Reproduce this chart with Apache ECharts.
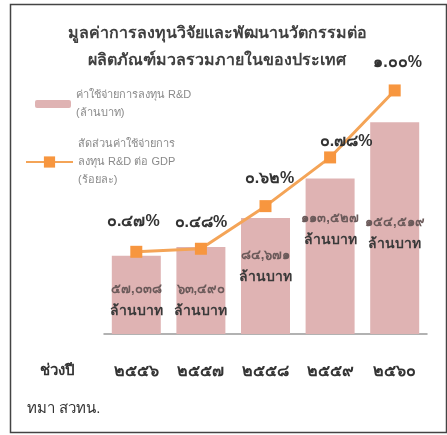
<!DOCTYPE html>
<html><head><meta charset="utf-8">
<script src="https://cdn.jsdelivr.net/npm/echarts@6/dist/echarts.min.js"></script>
<style>html,body{margin:0;padding:0;background:#fff}#c{width:447px;height:435px}</style>
</head><body><div id="c"></div>
<script>
const years = [2556, 2557, 2558, 2559, 2560];
const rdSpend = [57038, 63490, 84671, 113527, 154519];
const rdShare = [0.47, 0.48, 0.62, 0.78, 1.00];
const titleLines = ['มูลค่าการลงทุนวิจัยและพัฒนานวัตกรรมต่อ', 'ผลิตภัณฑ์มวลรวมภายในของประเทศ'];
const barName = 'ค่าใช้จ่ายการลงทุน R&D\n(ล้านบาท)';
const lineName = 'สัดส่วนค่าใช้จ่ายการ\nลงทุน R&D ต่อ GDP\n(ร้อยละ)';

const TH = '๐๑๒๓๔๕๖๗๘๙';
const thai = s => String(s).replace(/[0-9]/g, d => TH[+d]);
const fmtNum = n => thai(n.toLocaleString('en-US'));

const barLabelOffset = [[0,5],[0,10],[0,-10],[0,-27],[0,5]];
const lineLabelOffset = [[-3,-2],[0,2],[4,0],[16,12],[3,0]];

const FONT = 'sans-serif';
const chart = echarts.init(document.getElementById('c'));
chart.setOption({
  animation: false,
  textStyle: {fontFamily: FONT},
  title: {
    text: titleLines.join('\n'),
    left: 212, top: 15, textAlign: 'center',
    textStyle: {fontSize: 16, fontWeight: 'bold', color: '#404040', lineHeight: 27}
  },
  legend: [
    {data: [{name: barName}], left: 35, top: 81, padding: 0, orient: 'vertical',
     itemWidth: 36, itemHeight: 8,
     textStyle: {color: '#8a8a8a', fontSize: 11, lineHeight: 18, padding: [10,0,0,0]}},
    {data: [{name: lineName}], left: 25, top: 119, padding: 0, orient: 'vertical',
     itemWidth: 47, itemHeight: 14,
     textStyle: {color: '#8a8a8a', fontSize: 11, lineHeight: 18, padding: [32,0,0,0]}}
  ],
  grid: {left: 104, right: 20, top: 60, bottom: 101, containLabel: false},
  xAxis: {
    type: 'category', data: years.map(thai),
    axisLine: {lineStyle: {color: '#999', width: 1.5}},
    axisTick: {show: false},
    axisLabel: {margin: 30, fontSize: 16, fontWeight: 'bold', color: '#333'}
  },
  yAxis: [
    {type: 'value', min: 0, max: 200000, show: false},
    {type: 'value', min: 0.2, max: 1.1, show: false}
  ],
  graphic: [
    {type: 'rect', shape: {x: 10.5, y: 4.5, width: 436, height: 428}, style: {fill: 'none', stroke: '#444', lineWidth: 1.5}, z: -1},
    {type: 'text', left: 40, top: 363, style: {text: 'ช่วงปี', fill: '#333', font: 'bold 15px ' + FONT}},
    {type: 'text', left: 27, top: 401, style: {text: 'ทมา สวทน.', fill: '#333', font: '15px ' + FONT}}
  ],
  series: [
    {
      name: barName, type: 'bar', barWidth: 49, yAxisIndex: 0,
      itemStyle: {color: '#DFB3B3'},
      data: rdSpend.map((v, i) => ({
        value: v,
        label: {offset: barLabelOffset[i]}
      })),
      label: {
        show: true, position: 'inside',
        formatter: p => '{n|' + fmtNum(p.value) + '}\n{u|ล้านบาท}',
        rich: {
          n: {fontSize: 13, fontWeight: 'bold', color: '#6b5a5a', lineHeight: 22},
          u: {fontSize: 14, fontWeight: 'bold', color: '#3a3a3a', lineHeight: 22}
        }
      }
    },
    {
      name: lineName, type: 'line', yAxisIndex: 1, z: 5,
      symbol: 'rect', symbolSize: 12,
      lineStyle: {color: '#F4A457', width: 3},
      itemStyle: {color: '#F7963F'},
      data: rdShare.map((v, i) => ({value: v, label: {offset: lineLabelOffset[i]}})),
      label: {
        show: true, position: 'top', distance: 14,
        formatter: p => thai(p.value.toFixed(2)) + '%',
        fontSize: 16, fontWeight: 'bold', color: '#333'
      }
    }
  ]
});
</script></body></html>
